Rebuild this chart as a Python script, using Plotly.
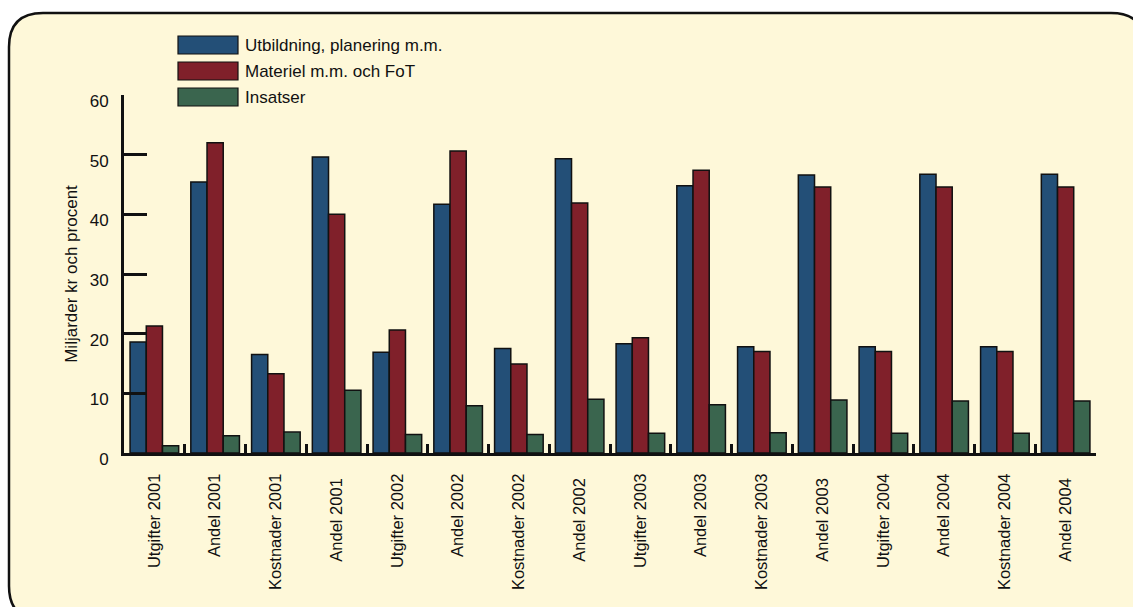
import plotly.graph_objects as go

categories = ["Utgifter 2001", "Andel 2001", "Kostnader 2001", "Andel 2001 ",
              "Utgifter 2002", "Andel 2002", "Kostnader 2002", "Andel 2002 ",
              "Utgifter 2003", "Andel 2003", "Kostnader 2003", "Andel 2003 ",
              "Utgifter 2004", "Andel 2004", "Kostnader 2004", "Andel 2004 "]
utbildning = [18.6, 45.4, 16.5, 49.6, 16.9, 41.7, 17.5, 49.3,
              18.3, 44.8, 17.8, 46.6, 17.8, 46.7, 17.8, 46.7]
materiel = [21.3, 52.0, 13.3, 40.0, 20.6, 50.6, 14.9, 41.9,
            19.3, 47.4, 17.0, 44.6, 17.0, 44.6, 17.0, 44.6]
insatser = [1.2, 2.9, 3.5, 10.5, 3.1, 7.9, 3.1, 9.0,
            3.3, 8.1, 3.4, 8.9, 3.3, 8.7, 3.3, 8.7]
series_names = ["Utbildning, planering m.m.", "Materiel m.m. och FoT", "Insatser"]
series_colors = ["#234F77", "#80202A", "#3A654E"]
y_ticks = [0, 10, 20, 30, 40, 50, 60]

FONT = "Liberation Sans, Arial, sans-serif"
W, H = 1133, 607
L, T = 124, 95
PW, PH = 972, 358
R, B = W - L - PW, H - T - PH


def px(x):
    return (x - L) / PW


def py(y):
    return (T + PH - y) / PH


fig = go.Figure()
for name, vals, col in zip(series_names, [utbildning, materiel, insatser], series_colors):
    fig.add_trace(go.Bar(x=categories, y=vals, name=name, marker_color=col,
                         marker_line_color="#111111", marker_line_width=1.5,
                         showlegend=False))

shapes = []
# rounded frame
x0, y0, x1, y1, r = 9, 13, 1145, 620, 34
path = (f"M {px(x0 + r)},{py(y0)} L {px(x1 - r)},{py(y0)} "
        f"Q {px(x1)},{py(y0)} {px(x1)},{py(y0 + r)} "
        f"L {px(x1)},{py(y1 - r)} Q {px(x1)},{py(y1)} {px(x1 - r)},{py(y1)} "
        f"L {px(x0 + r)},{py(y1)} Q {px(x0)},{py(y1)} {px(x0)},{py(y1 - r)} "
        f"L {px(x0)},{py(y0 + r)} Q {px(x0)},{py(y0)} {px(x0 + r)},{py(y0)} Z")
shapes.append(dict(type="path", xref="paper", yref="paper", path=path,
                   fillcolor="#FEF8D9", line=dict(color="#111111", width=2.5),
                   layer="below"))

annotations = []
for i, (name, col) in enumerate(zip(series_names, series_colors)):
    top = 36 + i * 26
    shapes.append(dict(type="rect", xref="paper", yref="paper",
                       x0=px(178), x1=px(238), y0=py(top), y1=py(top + 18),
                       fillcolor=col, line=dict(color="#111111", width=1.2)))
    annotations.append(dict(xref="paper", yref="paper", x=px(243), y=py(top + 9),
                            text=name, showarrow=False, xanchor="left", yanchor="middle",
                            font=dict(family=FONT, size=17, color="#111111")))

fig.update_layout(
    width=W, height=H,
    margin=dict(l=L, r=R, t=T, b=B),
    paper_bgcolor="white",
    plot_bgcolor="rgba(0,0,0,0)",
    barmode="group", bargap=0.2, bargroupgap=0,
    font=dict(family=FONT, size=16, color="#111111"),
    shapes=shapes, annotations=annotations,
    showlegend=False,
    xaxis=dict(type="category", tickangle=-90, ticks="inside", tickson="boundaries",
               ticklen=9, tickwidth=2.5, tickcolor="#111111",
               showline=True, linecolor="#111111", linewidth=3,
               showgrid=False, zeroline=False,
               tickfont=dict(family=FONT, size=16.5, color="#111111"),
               ticklabelstandoff=11),
    yaxis=dict(range=[0, 60], tickvals=y_ticks, ticks="inside", ticklen=23,
               tickwidth=3, tickcolor="#111111",
               showline=True, linecolor="#111111", linewidth=3,
               showgrid=False, zeroline=False,
               tickfont=dict(family=FONT, size=17, color="#111111"),
               ticklabelstandoff=9, ticklabelshift=6,
               title=dict(text="Miljarder kr och procent", standoff=8,
                          font=dict(family=FONT, size=17, color="#111111"))),
)

fig.write_html("out.html",
               config={"displayModeBar": False},
               post_script="document.body.style.margin='0';document.body.style.overflow='hidden';")
